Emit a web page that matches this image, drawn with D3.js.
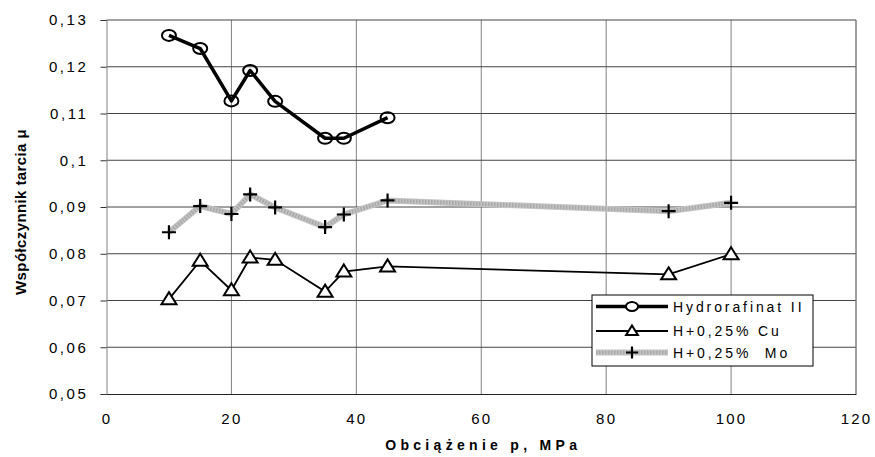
<!DOCTYPE html>
<html>
<head>
<meta charset="utf-8">
<script src="https://cdn.jsdelivr.net/npm/d3@7"></script>
<style>
  body { margin: 0; background: #fff; }
  text { font-family: "Liberation Sans", Arial, sans-serif; }
</style>
</head>
<body>
<svg id="chart" width="875" height="457"></svg>
<script>
// data
const loadP = [10, 15, 20, 23, 27, 35, 38, 45];
const loadPLong = [10, 15, 20, 23, 27, 35, 38, 45, 90, 100];
const hydroValues = [0.1267, 0.1239, 0.1127, 0.1192, 0.1126, 0.1047, 0.1047, 0.1091];
const cuValues = [0.0703, 0.0785, 0.0722, 0.0792, 0.0787, 0.0719, 0.0762, 0.0773, 0.0756, 0.0799];
const moValues = [0.0846, 0.0902, 0.0885, 0.0927, 0.0899, 0.0857, 0.0884, 0.0914, 0.0891, 0.0909];
const xTicks = [0, 20, 40, 60, 80, 100, 120];
const yTicks = [0.05, 0.06, 0.07, 0.08, 0.09, 0.10, 0.11, 0.12, 0.13];
const seriesNames = ["Hydrorafinat II", "H+0,25% Cu", "H+0,25%  Mo"];

const svg = d3.select("#chart");
const margin = {left: 106.5, right: 19, top: 20, bottom: 63};
const width = 875, height = 457;

const x = d3.scaleLinear().domain([0, 120]).range([margin.left, width - margin.right]);
const y = d3.scaleLinear().domain([0.05, 0.13]).range([height - margin.bottom, margin.top]);

const fmt = v => d3.format(".2f")(v).replace(/0$/, "").replace(".", ",");

// grid
svg.append("g").selectAll("line")
    .data(xTicks.slice(1))
    .join("line")
    .attr("x1", d => x(d)).attr("x2", d => x(d))
    .attr("y1", y(0.13)).attr("y2", y(0.05))
    .style("stroke", "#808080").style("stroke-width", 1);

svg.append("g").selectAll("line")
    .data(yTicks.slice(1))
    .join("line")
    .attr("x1", x(0)).attr("x2", x(120))
    .attr("y1", d => y(d)).attr("y2", d => y(d))
    .style("stroke", "#444").style("stroke-width", 1);

// axes
const yAxis = svg.append("g")
    .attr("transform", `translate(${x(0)},0)`)
    .call(d3.axisLeft(y).tickValues(yTicks).tickFormat(fmt).tickSize(6).tickPadding(12));
yAxis.select(".domain").style("stroke", "#808080");
yAxis.selectAll(".tick line").style("stroke", "#333");
yAxis.selectAll("text").style("font-size", "15px").style("letter-spacing", "2.6px").style("fill", "#000");

const xAxis = svg.append("g")
    .attr("transform", `translate(0,${y(0.05)})`)
    .call(d3.axisBottom(x).tickValues(xTicks).tickSize(0).tickPadding(19));
xAxis.select(".domain").style("stroke", "#222");
xAxis.selectAll("text").style("font-size", "15px").style("letter-spacing", "2.2px").style("fill", "#000");

// right border
svg.append("line")
    .attr("x1", x(120)).attr("x2", x(120))
    .attr("y1", y(0.13)).attr("y2", y(0.05))
    .style("stroke", "#808080");

// titles
svg.append("text")
    .attr("transform", `translate(26,${(y(0.13) + y(0.05)) / 2 + 5}) rotate(-90)`)
    .attr("text-anchor", "middle")
    .style("font-size", "15px").style("font-weight", "bold").style("letter-spacing", "0.4px")
    .text("Współczynnik tarcia μ");

svg.append("text")
    .attr("x", (x(0) + x(120)) / 2 + 2)
    .attr("y", 450)
    .attr("text-anchor", "middle")
    .style("font-size", "14px").style("font-weight", "bold").style("letter-spacing", "4.3px")
    .text("Obciążenie p, MPa");

const line = d3.line().x(d => x(d[0])).y(d => y(d[1]));

const hydro = d3.zip(loadP, hydroValues);
const cu = d3.zip(loadPLong, cuValues);
const mo = d3.zip(loadPLong, moValues);

// Mo series: thick grey textured line
svg.append("path").datum(mo).attr("d", line)
    .style("fill", "none").style("stroke", "#c4c4c4").style("stroke-width", 6);
svg.append("path").datum(mo).attr("d", line)
    .style("fill", "none").style("stroke", "#a8a8a8").style("stroke-width", 4)
    .style("stroke-dasharray", "1.5,1.5");

const plus = (g, px, py, s) => {
    g.append("path")
        .attr("d", `M${px - s},${py} H${px + s} M${px},${py - s} V${py + s}`)
        .style("stroke", "#000").style("stroke-width", 2.2).style("fill", "none");
};
mo.forEach(d => plus(svg, x(d[0]), y(d[1]), 7));

// Cu series
svg.append("path").datum(cu).attr("d", line)
    .style("fill", "none").style("stroke", "#000").style("stroke-width", 1.8);

const tri = (g, px, py, s) => {
    g.append("path")
        .attr("d", `M${px},${py - s} L${px + s * 1.07},${py + s * 0.72} L${px - s * 1.07},${py + s * 0.72} Z`)
        .style("fill", "#fff").style("stroke", "#000").style("stroke-width", 2);
};
cu.forEach(d => tri(svg, x(d[0]), y(d[1]), 7));

// Hydrorafinat series
svg.append("path").datum(hydro).attr("d", line)
    .style("fill", "none").style("stroke", "#000").style("stroke-width", 3.5)
    .style("stroke-linejoin", "round");

svg.append("g").selectAll("ellipse")
    .data(hydro)
    .join("ellipse")
    .attr("cx", d => x(d[0])).attr("cy", d => y(d[1]))
    .attr("rx", 7).attr("ry", 5.5)
    .style("fill", "none").style("stroke", "#000").style("stroke-width", 2);

// legend
const lg = svg.append("g").attr("transform", "translate(592,295)");
lg.append("rect").attr("width", 221).attr("height", 71)
    .style("fill", "#fff").style("stroke", "#000").style("stroke-width", 1);

const rowY = [11.5, 36, 57.5];
// row 1
lg.append("line").attr("x1", 4).attr("x2", 76).attr("y1", rowY[0]).attr("y2", rowY[0])
    .style("stroke", "#000").style("stroke-width", 3.5);
lg.append("ellipse").attr("cx", 40).attr("cy", rowY[0]).attr("rx", 6).attr("ry", 4.5)
    .style("fill", "#fff").style("stroke", "#000").style("stroke-width", 2);
// row 2
lg.append("line").attr("x1", 4).attr("x2", 76).attr("y1", rowY[1]).attr("y2", rowY[1])
    .style("stroke", "#000").style("stroke-width", 1.8);
tri(lg, 40, rowY[1], 5.5);
// row 3
lg.append("line").attr("x1", 4).attr("x2", 76).attr("y1", rowY[2]).attr("y2", rowY[2])
    .style("stroke", "#c4c4c4").style("stroke-width", 6);
lg.append("line").attr("x1", 4).attr("x2", 76).attr("y1", rowY[2]).attr("y2", rowY[2])
    .style("stroke", "#a8a8a8").style("stroke-width", 4).style("stroke-dasharray", "1.5,1.5");
plus(lg, 40, rowY[2], 6);

lg.selectAll("text.leg")
    .data(seriesNames)
    .join("text")
    .attr("class", "leg")
    .attr("x", 81)
    .attr("y", (d, i) => rowY[i] + 5)
    .style("font-size", "14px").style("letter-spacing", "2.9px").style("white-space", "pre")
    .text(d => d);
</script>
</body>
</html>
